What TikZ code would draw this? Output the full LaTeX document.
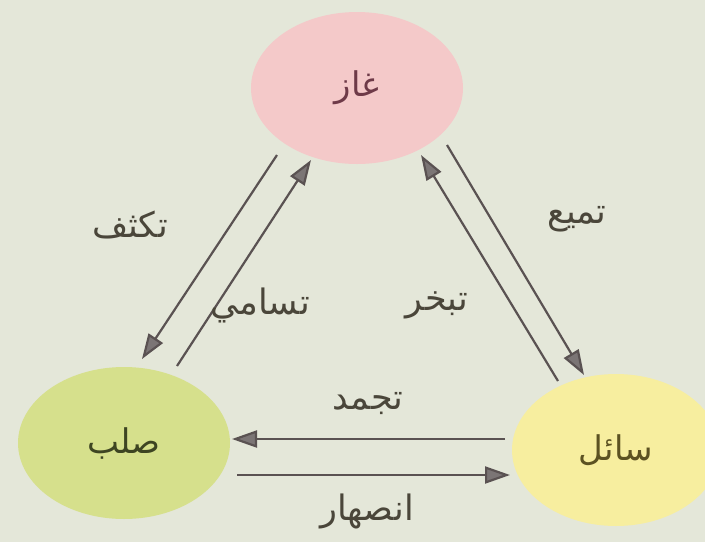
\documentclass[tikz,border=0pt]{standalone}
\usepackage{fontspec}
\usetikzlibrary{shapes.geometric,arrows.meta}
\TeXXeTstate=1
\newfontfamily\arabicfont[Script=Arabic]{DejaVu Sans}
\newcommand{\ar}[1]{{\arabicfont\beginR #1\endR}}
\definecolor{paper}{HTML}{E4E7D9}
\definecolor{gasfill}{HTML}{F4C9C9}
\definecolor{solidfill}{HTML}{D6E08C}
\definecolor{liquidfill}{HTML}{F7EE9F}
\definecolor{arrowcol}{HTML}{5A5252}
\definecolor{labelcol}{HTML}{4A463A}
\definecolor{gastext}{HTML}{6E3A48}
\definecolor{solidtext}{HTML}{3E4522}
\definecolor{liquidtext}{HTML}{5C5222}
\tikzset{
  phase/.style={ellipse, draw=none, minimum width=212pt, minimum height=152pt,
    font=\fontsize{34}{36}\selectfont\arabicfont},
  change/.style={draw=arrowcol, line width=2.2pt,
    -{Triangle[length=25pt,width=17pt,fill=arrowcol!80]}},
  changelabel/.style={text=labelcol, font=\fontsize{35}{38}\selectfont\arabicfont}
}
\begin{document}
\begin{tikzpicture}[x=1pt,y=-1pt]
  \fill[paper] (0,0) rectangle (705,542);
  \useasboundingbox (0,0) rectangle (705,542);
  \clip (0,0) rectangle (705,542);

  % the three states of matter
  \node[phase, fill=gasfill, text=gastext] (gas) at (357,88) {\ar{غاز}};
  \node[phase, fill=solidfill, text=solidtext] (solid) at (124,443) {\ar{صلب}};
  \node[phase, fill=liquidfill, text=liquidtext, minimum width=208pt] (liquid) at (616,450) {\ar{سائل}};

  % end points of the transition arrows
  \coordinate (c1) at (277,155);
  \coordinate (c2) at (142,359);
  \coordinate (s1) at (177,366);
  \coordinate (s2) at (311,160);
  \coordinate (l1) at (447,145);
  \coordinate (l2) at (584,375);
  \coordinate (e1) at (558,381);
  \coordinate (e2) at (421,155);
  \coordinate (f1) at (505,439);
  \coordinate (f2) at (232,439);
  \coordinate (m1) at (237,475);
  \coordinate (m2) at (510,475);

  % transitions
  \draw[change] (c1) -- (c2);
  \draw[change] (s1) -- (s2);
  \draw[change] (l1) -- (l2);
  \draw[change] (e1) -- (e2);
  \draw[change] (f1) -- (f2);
  \draw[change] (m1) -- (m2);

  % transition names
  \node[changelabel] (lc) at (130,225) {\ar{تكثف}};
  \node[changelabel] (ls) at (260,305) {\ar{تسامي}};
  \node[changelabel] (ll) at (577,219) {\ar{تميع}};
  \node[changelabel] (le) at (437,305) {\ar{تبخر}};
  \node[changelabel] (lf) at (368,404) {\ar{تجمد}};
  \node[changelabel] (lm) at (367,511) {\ar{انصهار}};
\end{tikzpicture}
\end{document}
